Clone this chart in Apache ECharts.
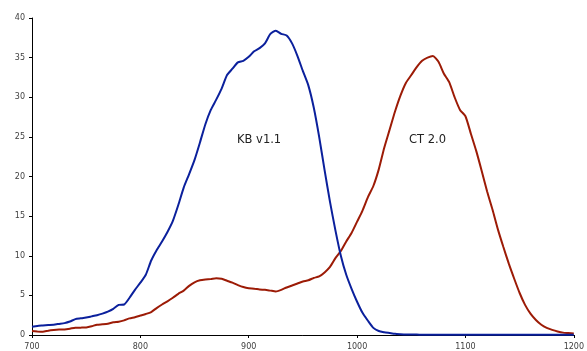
<!DOCTYPE html>
<html>
<head>
<meta charset="utf-8">
<script src="https://cdn.jsdelivr.net/npm/echarts@6/dist/echarts.min.js"></script>
<style>
html,body{margin:0;padding:0;background:#fff;}
#c{width:587px;height:351px;}
</style>
</head>
<body>
<div id="c"></div>
<script>
// x positions (step 5)
const xValues = [];
for (let v = 700; v <= 1200; v += 5) xValues.push(v);

const kbValues = [
1.05,1.15,1.2,1.25,1.3,1.4,1.5,1.7,2.0,2.1,
2.2,2.35,2.5,2.7,2.95,3.3,3.8,3.85,4.7,5.7,
6.6,7.6,9.4,10.7,11.8,13.0,14.4,16.4,18.6,20.3,
22.1,24.3,26.6,28.4,29.7,31.1,32.8,33.6,34.4,34.6,
35.1,35.8,36.2,36.8,38.0,38.4,38.0,37.8,36.8,35.2,
33.3,31.5,28.7,25.0,20.8,16.8,13.2,10.0,7.6,5.8,
4.2,2.8,1.8,0.9,0.5,0.35,0.25,0.15,0.1,0.06,
0.05,0.05,0.04,0.04,0.04,0.03,0.03,0.03,0.03,0.03,
0.03,0.03,0.03,0.03,0.03,0.03,0.03,0.03,0.03,0.03,
0.03,0.03,0.03,0.03,0.03,0.03,0.03,0.03,0.03,0.03,
0.03
];

const ctValues = [
0.5,0.45,0.42,0.55,0.63,0.68,0.7,0.8,0.92,0.93,
0.95,1.1,1.3,1.35,1.42,1.6,1.68,1.85,2.1,2.25,
2.45,2.65,2.9,3.4,3.85,4.25,4.7,5.2,5.6,6.2,
6.65,6.9,7.0,7.05,7.15,7.1,6.85,6.6,6.3,6.05,
5.9,5.85,5.75,5.7,5.6,5.5,5.7,6.0,6.25,6.5,
6.75,6.9,7.2,7.4,7.9,8.6,9.7,10.6,11.8,12.9,
14.3,15.7,17.4,18.8,20.9,23.6,25.9,28.2,30.2,31.8,
32.8,33.8,34.6,35.0,35.2,34.5,33.0,31.9,30.0,28.4,
27.6,25.4,23.2,20.7,18.1,15.8,13.3,11.1,9.0,7.1,
5.3,3.8,2.7,1.9,1.3,0.9,0.65,0.45,0.3,0.25,
0.2
];

const seriesNames = ['KB v1.1', 'CT 2.0'];
const xTicks = [700, 800, 900, 1000, 1100, 1200];
const yTicks = [0, 5, 10, 15, 20, 25, 30, 35, 40];

const chart = echarts.init(document.getElementById('c'), null, {renderer: 'canvas'});
const pairs = (ys) => xValues.map((x, i) => [x, ys[i]]);

chart.setOption({
  animation: false,
  backgroundColor: '#ffffff',
  grid: {left: 32, right: 13, top: 18, bottom: 16, containLabel: false},
  xAxis: {
    type: 'value', min: xTicks[0], max: xTicks[xTicks.length - 1], interval: 100,
    axisLine: {show: true, onZero: false, lineStyle: {color: '#000', width: 1}},
    axisTick: {show: true, length: 3, inside: false, lineStyle: {color: '#000'}},
    splitLine: {show: false},
    axisLabel: {fontFamily: 'DejaVu Sans', fontSize: 8, color: '#404040', margin: 8,
      formatter: (v) => String(v)}
  },
  yAxis: {
    type: 'value', min: yTicks[0], max: yTicks[yTicks.length - 1], interval: 5,
    axisLine: {show: true, lineStyle: {color: '#000', width: 1}},
    axisTick: {show: true, length: 3, lineStyle: {color: '#000'}},
    splitLine: {show: false},
    axisLabel: {fontFamily: 'DejaVu Sans', fontSize: 8, color: '#404040', margin: 7,
      formatter: (v) => String(v)}
  },
  graphic: [
    {type: 'text', left: 237, top: 134, style: {text: seriesNames[0], font: '11.5px "DejaVu Sans"', fill: '#222'}},
    {type: 'text', left: 409, top: 134, style: {text: seriesNames[1], font: '11.5px "DejaVu Sans"', fill: '#222'}}
  ],
  series: [
    {name: seriesNames[0], type: 'line', data: pairs(kbValues), showSymbol: false, clip: false, smooth: 0.2,
     lineStyle: {color: '#0B209C', width: 2}, itemStyle: {color: '#0B209C'}, z: 3},
    {name: seriesNames[1], type: 'line', data: pairs(ctValues), showSymbol: false, clip: false, smooth: 0.2,
     lineStyle: {color: '#9C1B06', width: 2}, itemStyle: {color: '#9C1B06'}, z: 2}
  ]
});
</script>
</body>
</html>
